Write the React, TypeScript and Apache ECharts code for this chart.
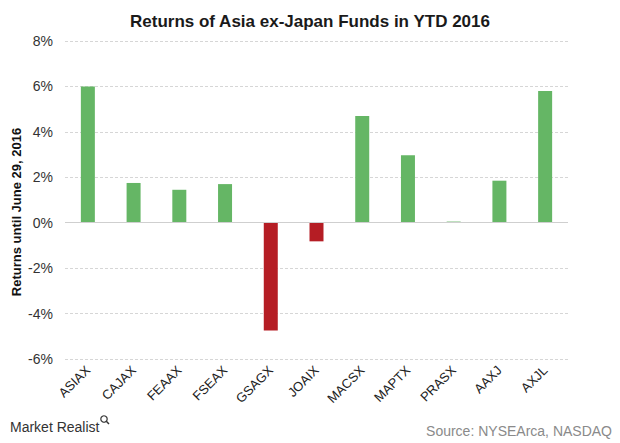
import React, { useEffect, useRef } from "react";
import * as echarts from "echarts";

const categories = ["ASIAX", "CAJAX", "FEAAX", "FSEAX", "GSAGX", "JOAIX", "MACSX", "MAPTX", "PRASX", "AAXJ", "AXJL"];
const returnsPct = [6.0, 1.75, 1.45, 1.7, -4.75, -0.82, 4.7, 2.97, 0.05, 1.85, 5.8];
const yTicks = { min: -6, max: 8, interval: 2 };

const GREEN = "#65b665";
const RED = "#b51d24";

export default function App() {
  const ref = useRef<HTMLDivElement>(null);
  useEffect(() => {
    document.body.style.margin = "0";
    const chart = echarts.init(ref.current!, null, { renderer: "svg" });
    chart.setOption({
      animation: false,
      backgroundColor: "#ffffff",
      textStyle: { fontFamily: "Liberation Sans, Arial, sans-serif" },
      title: {
        text: "Returns of Asia ex-Japan Funds in YTD 2016",
        left: "center",
        top: 8,
        textStyle: { fontSize: 17, fontWeight: "bold", color: "#1a1a1a" },
      },
      grid: { left: 65, right: 52, top: 41, bottom: 84 },
      xAxis: {
        type: "category",
        data: categories,
        position: "bottom",
        axisLine: { show: false, onZero: false },
        axisTick: { show: false },
        axisLabel: { rotate: 45, margin: 9, fontSize: 13, color: "#222", interval: 0 },
      },
      yAxis: {
        type: "value",
        min: yTicks.min,
        max: yTicks.max,
        interval: yTicks.interval,
        axisLine: { show: false },
        axisTick: { show: false },
        axisLabel: { formatter: "{value}%", fontSize: 14, color: "#333", margin: 12 },
        splitLine: { lineStyle: { type: [3, 2], color: "#d6d6d6", width: 1 } },
      },
      series: [
        {
          type: "bar",
          data: returnsPct.map((v) => ({
            value: v,
            itemStyle: { color: v >= 0 ? GREEN : RED },
          })),
          barWidth: 14,
          markLine: {
            silent: true,
            symbol: "none",
            label: { show: false },
            lineStyle: { type: "solid", color: "#cfcfcf", width: 1 },
            data: [{ yAxis: 0 }],
          },
        },
      ],
      graphic: [
        {
          type: "text",
          x: 16,
          y: 212,
          rotation: Math.PI / 2,
          style: {
            text: "Returns until June 29, 2016",
            fontSize: 13,
            fontWeight: "bold",
            fill: "#111",
            align: "center",
            verticalAlign: "middle",
            fontFamily: "Liberation Sans, Arial, sans-serif",
          },
        },
        {
          type: "text",
          left: 10,
          top: 420,
          style: { text: "Market Realist", fontSize: 14, fill: "#333", fontFamily: "Liberation Sans, Arial, sans-serif" },
        },
        {
          type: "circle",
          shape: { cx: 104, cy: 419, r: 3.2 },
          style: { fill: "none", stroke: "#333", lineWidth: 1.2 },
        },
        {
          type: "line",
          shape: { x1: 106.3, y1: 421.3, x2: 109, y2: 424 },
          style: { stroke: "#333", lineWidth: 1.5 },
        },
        {
          type: "text",
          right: 8,
          top: 424,
          style: { text: "Source: NYSEArca, NASDAQ", fontSize: 14, fill: "#8a8a8a", fontFamily: "Liberation Sans, Arial, sans-serif" },
        },
      ],
    });
    return () => chart.dispose();
  }, []);
  return <div ref={ref} style={{ width: 620, height: 443 }} />;
}
